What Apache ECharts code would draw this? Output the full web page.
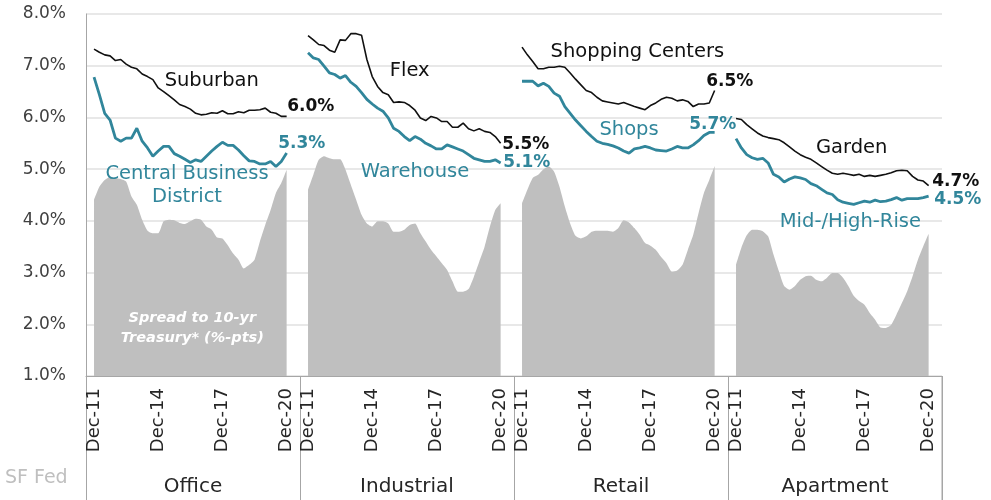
<!DOCTYPE html>
<html>
<head>
<meta charset="utf-8">
<script src="https://cdn.jsdelivr.net/npm/echarts@6/dist/echarts.min.js"></script>
<style>
  html, body { margin: 0; padding: 0; background: #fff; }
  #chart { width: 991px; height: 500px; }
</style>
</head>
<body>
<div id="chart"></div>
<script>
// panels and tick labels
var sectors = ['Office', 'Industrial', 'Retail', 'Apartment'];
var tickLabels = ['Dec-11', 'Dec-14', 'Dec-17', 'Dec-20'];

// quarterly cap rates (%), Dec-11 .. Dec-20
var suburban = [7.32, 7.26, 7.21, 7.19, 7.10, 7.12, 7.03, 6.97, 6.94, 6.84, 6.79, 6.73, 6.57, 6.50, 6.42, 6.34, 6.25, 6.21, 6.16, 6.08, 6.05, 6.06, 6.09, 6.08, 6.13, 6.07, 6.07, 6.11, 6.09, 6.14, 6.14, 6.15, 6.18, 6.10, 6.08, 6.02, 6.02];
var cbd = [6.78, 6.44, 6.08, 5.95, 5.60, 5.54, 5.60, 5.60, 5.79, 5.54, 5.41, 5.25, 5.35, 5.44, 5.44, 5.30, 5.25, 5.19, 5.13, 5.18, 5.15, 5.25, 5.35, 5.44, 5.52, 5.46, 5.46, 5.37, 5.26, 5.16, 5.15, 5.10, 5.10, 5.15, 5.05, 5.15, 5.31];
var officeSpread = [4.41, 4.66, 4.79, 4.85, 4.83, 4.81, 4.76, 4.47, 4.31, 4.02, 3.81, 3.76, 3.76, 3.99, 4.02, 4.01, 3.96, 3.94, 3.99, 4.04, 4.02, 3.89, 3.83, 3.68, 3.66, 3.53, 3.37, 3.25, 3.08, 3.15, 3.25, 3.60, 3.92, 4.21, 4.54, 4.73, 4.99];

var flex = [7.58, 7.50, 7.41, 7.39, 7.30, 7.26, 7.50, 7.49, 7.62, 7.62, 7.59, 7.12, 6.79, 6.60, 6.48, 6.44, 6.29, 6.30, 6.29, 6.23, 6.14, 5.99, 5.94, 6.02, 5.99, 5.92, 5.92, 5.81, 5.81, 5.89, 5.78, 5.74, 5.78, 5.73, 5.71, 5.63, 5.50];
var warehouse = [7.25, 7.15, 7.12, 6.99, 6.86, 6.83, 6.76, 6.81, 6.68, 6.60, 6.48, 6.35, 6.26, 6.18, 6.12, 5.99, 5.79, 5.73, 5.63, 5.55, 5.63, 5.58, 5.50, 5.45, 5.39, 5.39, 5.47, 5.43, 5.39, 5.35, 5.28, 5.21, 5.18, 5.15, 5.15, 5.18, 5.12];
var industrialSpread = [4.60, 4.89, 5.18, 5.25, 5.21, 5.19, 5.19, 4.99, 4.70, 4.41, 4.12, 3.95, 3.89, 3.99, 3.99, 3.95, 3.79, 3.79, 3.83, 3.92, 3.95, 3.76, 3.60, 3.44, 3.31, 3.18, 3.05, 2.83, 2.63, 2.63, 2.68, 2.92, 3.21, 3.50, 3.89, 4.21, 4.34];

var shoppingCenters = [7.36, 7.21, 7.08, 6.94, 6.94, 6.97, 6.97, 6.99, 6.97, 6.86, 6.74, 6.63, 6.52, 6.48, 6.39, 6.32, 6.30, 6.28, 6.26, 6.29, 6.25, 6.21, 6.18, 6.15, 6.23, 6.28, 6.35, 6.39, 6.37, 6.32, 6.34, 6.31, 6.21, 6.26, 6.26, 6.28, 6.52];
var shops = [6.70, 6.70, 6.70, 6.61, 6.66, 6.60, 6.47, 6.41, 6.21, 6.08, 5.95, 5.84, 5.73, 5.63, 5.54, 5.50, 5.48, 5.45, 5.41, 5.35, 5.31, 5.39, 5.41, 5.44, 5.41, 5.37, 5.36, 5.35, 5.39, 5.44, 5.41, 5.41, 5.47, 5.55, 5.65, 5.71, 5.71];
var retailSpread = [4.34, 4.60, 4.83, 4.89, 5.00, 5.05, 4.95, 4.66, 4.28, 3.95, 3.71, 3.66, 3.70, 3.79, 3.81, 3.81, 3.81, 3.79, 3.86, 4.01, 3.97, 3.86, 3.73, 3.57, 3.52, 3.44, 3.30, 3.18, 3.02, 3.04, 3.15, 3.44, 3.73, 4.15, 4.54, 4.79, 5.06];

var garden = [5.98, 5.96, 5.86, 5.78, 5.70, 5.64, 5.61, 5.59, 5.57, 5.51, 5.43, 5.35, 5.28, 5.23, 5.19, 5.12, 5.05, 4.98, 4.92, 4.90, 4.92, 4.90, 4.88, 4.90, 4.86, 4.88, 4.86, 4.88, 4.90, 4.93, 4.97, 4.98, 4.97, 4.86, 4.79, 4.77, 4.68];
var midHighRise = [5.59, 5.41, 5.28, 5.22, 5.19, 5.21, 5.12, 4.90, 4.85, 4.75, 4.81, 4.85, 4.83, 4.80, 4.72, 4.68, 4.61, 4.54, 4.51, 4.41, 4.36, 4.34, 4.32, 4.35, 4.38, 4.36, 4.40, 4.37, 4.38, 4.41, 4.45, 4.40, 4.43, 4.43, 4.43, 4.45, 4.48];
var apartmentSpread = [3.15, 3.48, 3.72, 3.83, 3.83, 3.80, 3.70, 3.35, 3.03, 2.74, 2.67, 2.74, 2.86, 2.93, 2.94, 2.86, 2.83, 2.90, 2.99, 2.99, 2.90, 2.74, 2.55, 2.45, 2.38, 2.22, 2.09, 1.94, 1.93, 1.99, 2.19, 2.41, 2.64, 2.93, 3.25, 3.51, 3.75];

var BLACK = '#111111';
var TEAL = '#31869b';
var GREY = '#bfbfbf';
var AXIS = '#a6a6a6';
var FONT = 'DejaVu Sans';

// each panel = 40 category slots: 1 empty, 37 quarters, 2 empty
var SLOTS = 40;
var N = sectors.length * SLOTS;
var months = ['Dec', 'Mar', 'Jun', 'Sep'];
var categories = [];
for (var i = 0; i < N; i++) {
  var q = (i % SLOTS) - 1;
  if (q < 0 || q > 36) {
    categories.push('');
  } else {
    var yr = 11 + Math.ceil(q / 4);
    categories.push(months[q % 4] + '-' + yr);
  }
}

function place(panel, values) {
  var out = [];
  for (var i = 0; i < N; i++) out.push(null);
  values.forEach(function (v, q) { out[panel * SLOTS + 1 + q] = v; });
  return out;
}

function endLabel(panel, values, color, dx, dy) {
  var last = values.length - 1;
  return {
    coord: [panel * SLOTS + 1 + last, values[last]],
    label: {
      position: 'right', distance: 0, offset: [dx, dy],
      formatter: values[last].toFixed(1) + '%',
      color: color, fontWeight: 'bold', fontSize: 17, fontFamily: FONT
    }
  };
}

function nameLabel(idx, v, text, color, dx, dy) {
  return {
    coord: [idx, v],
    label: {
      position: 'inside', offset: [dx || 0, dy || 0],
      formatter: text, color: color, fontSize: 19.5, fontFamily: FONT,
      lineHeight: 23
    }
  };
}

var panels = [
  { spread: officeSpread, black: suburban, teal: cbd,
    blackLabels: [nameLabel(23, 6.70, 'Suburban', BLACK), endLabel(0, suburban, BLACK, 0, -10)],
    tealLabels: [nameLabel(18, 4.69, 'Central Business\nDistrict', TEAL, 2), endLabel(0, cbd, TEAL, -9, -10)],
    spreadLabels: [{
      coord: [19, 1.93],
      label: {
        position: 'inside', offset: [2, 0], formatter: 'Spread to 10-yr\nTreasury* (%-pts)',
        color: '#ffffff', fontStyle: 'italic', fontWeight: 'bold', fontSize: 14.5,
        lineHeight: 20, fontFamily: FONT
      }
    }] },
  { spread: industrialSpread, black: flex, teal: warehouse,
    blackLabels: [nameLabel(60, 6.90, 'Flex', BLACK), endLabel(1, flex, BLACK, 1, 1)],
    tealLabels: [nameLabel(61, 4.95, 'Warehouse', TEAL), endLabel(1, warehouse, TEAL, 2, 0)],
    spreadLabels: [] },
  { spread: retailSpread, black: shoppingCenters, teal: shops,
    blackLabels: [nameLabel(102, 7.27, 'Shopping Centers', BLACK, 3), endLabel(2, shoppingCenters, BLACK, -9, -9)],
    tealLabels: [nameLabel(101, 5.76, 'Shops', TEAL), endLabel(2, shops, TEAL, -26, -8)],
    spreadLabels: [] },
  { spread: apartmentSpread, black: garden, teal: midHighRise,
    blackLabels: [nameLabel(143, 5.41, 'Garden', BLACK, -2), endLabel(3, garden, BLACK, 3, -4)],
    tealLabels: [nameLabel(142, 3.98, 'Mid-/High-Rise', TEAL, 2), endLabel(3, midHighRise, TEAL, 5, 4)],
    spreadLabels: [] }
];

function marks(list) {
  return {
    symbol: 'circle', symbolSize: 1, silent: true, animation: false,
    itemStyle: { color: 'transparent' },
    data: list
  };
}

var series = [];
panels.forEach(function (p, i) {
  series.push({
    type: 'line', data: place(i, p.spread), symbol: 'none', smooth: 0.2,
    lineStyle: { width: 0 }, areaStyle: { color: GREY, opacity: 1, origin: 'start' },
    z: 1, markPoint: marks(p.spreadLabels)
  });
  series.push({
    type: 'line', data: place(i, p.black), symbol: 'none',
    lineStyle: { color: BLACK, width: 1.6 }, z: 3, markPoint: marks(p.blackLabels)
  });
  series.push({
    type: 'line', data: place(i, p.teal), symbol: 'none',
    lineStyle: { color: TEAL, width: 2.8 }, z: 4, markPoint: marks(p.tealLabels)
  });
});

var GRID = { left: 86, right: 49, top: 14, bottom: 124 };
var W = 991, H = 500;

var chart = echarts.init(document.getElementById('chart'));
chart.setOption({
  animation: false,
  backgroundColor: '#ffffff',
  textStyle: { fontFamily: FONT },
  grid: GRID,
  graphic: [{
    type: 'text', left: 5, top: 469,
    style: { text: 'SF Fed', fill: '#bfbfbf', font: '19px "DejaVu Sans"' }
  }, {
    // closing separator on the right of the last panel
    type: 'line', silent: true,
    shape: { x1: W - GRID.right, y1: H - GRID.bottom, x2: W - GRID.right, y2: H },
    style: { stroke: AXIS, lineWidth: 1 }
  }],
  xAxis: [{
    type: 'category', data: categories, boundaryGap: true,
    axisLine: { lineStyle: { color: AXIS, width: 1 } },
    axisTick: { show: false },
    axisLabel: {
      rotate: 90, margin: 12, fontSize: 18, color: '#262626', fontFamily: FONT,
      interval: function (index, value) { return tickLabels.indexOf(value) >= 0; }
    },
    splitLine: { show: false }
  }, {
    type: 'category', data: sectors, position: 'bottom', boundaryGap: true,
    axisLine: { show: false },
    axisTick: { show: true, length: 124, lineStyle: { color: AXIS } },
    axisLabel: { margin: 101, fontSize: 20, color: '#262626', fontFamily: FONT }
  }],
  yAxis: {
    type: 'value', min: 1, max: 8, interval: 1,
    axisLine: { show: true, lineStyle: { color: AXIS } },
    axisTick: { show: false },
    axisLabel: {
      margin: 20, fontSize: 17, color: '#404040', fontFamily: FONT,
      formatter: function (v) { return v.toFixed(1) + '%'; }
    },
    splitLine: { lineStyle: { color: '#e0e0e0', width: 1.5 } }
  },
  series: series
});
</script>
</body>
</html>
